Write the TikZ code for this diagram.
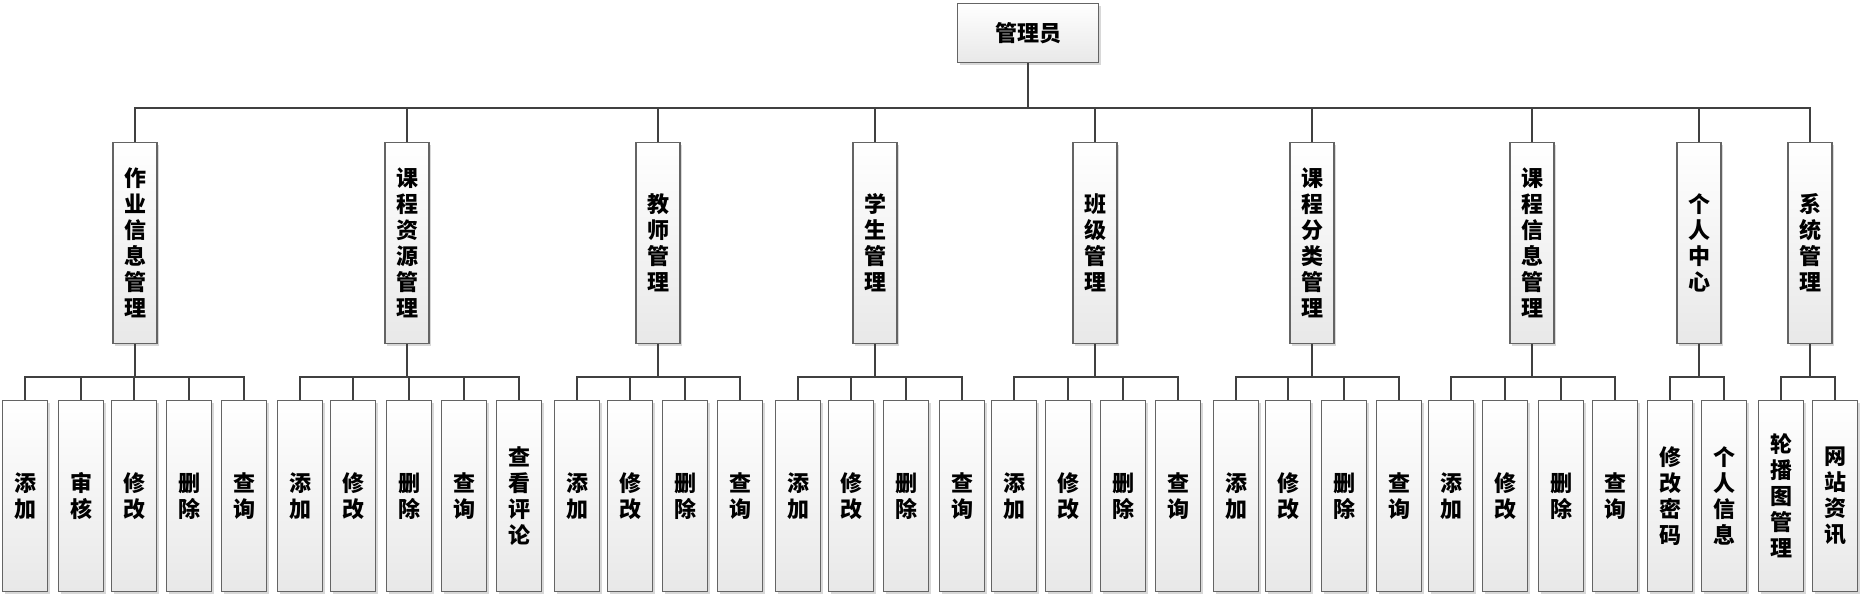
\documentclass[tikz,border=0pt]{standalone}
\usepackage{fontspec}
\usepackage{tikz}
\usetikzlibrary{shadows}
\newfontfamily\cjk{Noto Sans CJK SC}
\definecolor{linegray}{RGB}{64,64,64}
\definecolor{boxline}{RGB}{100,100,100}
\definecolor{boxfill}{RGB}{232,232,232}

\begin{document}
\begin{tikzpicture}[x=0.5pt, y=-0.5pt,
  every node/.style={align=center, inner sep=0pt, font=\cjk\bfseries\fontsize{11}{13}\selectfont},
  box/.style={draw=boxline, line width=0.7pt, top color=white, bottom color=boxfill,
    drop shadow={shadow xshift=1.2pt, shadow yshift=-1.2pt, fill=black!30}},
  rootbox/.style={box, minimum width=70.5pt, minimum height=29.5pt},
  midbox/.style={box, minimum width=22pt, minimum height=100.5pt},
  leafbox/.style={box, minimum width=22.5pt, minimum height=95.5pt},
  link/.style={draw=linegray, line width=1pt}]
  \useasboundingbox (0,0) rectangle (1866,599);
  % root
  \node[rootbox] (admin) at (1028,33) {管理员};
  % second level
  \node[midbox] (hw)  at (135,243)  {作\\业\\信\\息\\管\\理};
  \node[midbox] (res) at (407,243)  {课\\程\\资\\源\\管\\理};
  \node[midbox] (tea) at (658,243)  {教\\师\\管\\理};
  \node[midbox] (stu) at (875,243)  {学\\生\\管\\理};
  \node[midbox] (cls) at (1095,243) {班\\级\\管\\理};
  \node[midbox] (cat) at (1312,243) {课\\程\\分\\类\\管\\理};
  \node[midbox] (crs) at (1532,243) {课\\程\\信\\息\\管\\理};
  \node[midbox] (me)  at (1699,243) {个\\人\\中\\心};
  \node[midbox] (sys) at (1810,243) {系\\统\\管\\理};
  % 作业信息管理
  \node[leafbox] (hw1) at (25,496)  {添\\加};
  \node[leafbox] (hw2) at (81,496)  {审\\核};
  \node[leafbox] (hw3) at (134,496) {修\\改};
  \node[leafbox] (hw4) at (189,496) {删\\除};
  \node[leafbox] (hw5) at (244,496) {查\\询};
  % 课程资源管理
  \node[leafbox] (res1) at (300,496) {添\\加};
  \node[leafbox] (res2) at (353,496) {修\\改};
  \node[leafbox] (res3) at (409,496) {删\\除};
  \node[leafbox] (res4) at (464,496) {查\\询};
  \node[leafbox] (res5) at (519,496) {查\\看\\评\\论};
  % 教师管理
  \node[leafbox] (tea1) at (577,496) {添\\加};
  \node[leafbox] (tea2) at (630,496) {修\\改};
  \node[leafbox] (tea3) at (685,496) {删\\除};
  \node[leafbox] (tea4) at (740,496) {查\\询};
  % 学生管理
  \node[leafbox] (stu1) at (798,496) {添\\加};
  \node[leafbox] (stu2) at (851,496) {修\\改};
  \node[leafbox] (stu3) at (906,496) {删\\除};
  \node[leafbox] (stu4) at (962,496) {查\\询};
  % 班级管理
  \node[leafbox] (cls1) at (1014,496) {添\\加};
  \node[leafbox] (cls2) at (1068,496) {修\\改};
  \node[leafbox] (cls3) at (1123,496) {删\\除};
  \node[leafbox] (cls4) at (1178,496) {查\\询};
  % 课程分类管理
  \node[leafbox] (cat1) at (1236,496) {添\\加};
  \node[leafbox] (cat2) at (1288,496) {修\\改};
  \node[leafbox] (cat3) at (1344,496) {删\\除};
  \node[leafbox] (cat4) at (1399,496) {查\\询};
  % 课程信息管理
  \node[leafbox] (crs1) at (1451,496) {添\\加};
  \node[leafbox] (crs2) at (1505,496) {修\\改};
  \node[leafbox] (crs3) at (1561,496) {删\\除};
  \node[leafbox] (crs4) at (1615,496) {查\\询};
  % 个人中心
  \node[leafbox] (me1) at (1670,496) {修\\改\\密\\码};
  \node[leafbox] (me2) at (1724,496) {个\\人\\信\\息};
  % 系统管理
  \node[leafbox] (sys1) at (1781,496) {轮\\播\\图\\管\\理};
  \node[leafbox] (sys2) at (1835,496) {网\\站\\资\\讯};
  % connectors
  \draw[link] (admin.south) -- ++(0,45) coordinate (j0) -| (hw.north) (j0) -| (res.north)
    (j0) -| (tea.north) (j0) -| (stu.north) (j0) -| (cls.north) (j0) -| (cat.north)
    (j0) -| (crs.north) (j0) -| (me.north) (j0) -| (sys.north);
  \draw[link] (hw.south) -- ++(0,33) coordinate (j1) -| (hw1.north) (j1) -| (hw2.north)
    (j1) -| (hw3.north) (j1) -| (hw4.north) (j1) -| (hw5.north);
  \draw[link] (res.south) -- ++(0,33) coordinate (j2) -| (res1.north) (j2) -| (res2.north)
    (j2) -| (res3.north) (j2) -| (res4.north) (j2) -| (res5.north);
  \draw[link] (tea.south) -- ++(0,33) coordinate (j3) -| (tea1.north) (j3) -| (tea2.north)
    (j3) -| (tea3.north) (j3) -| (tea4.north);
  \draw[link] (stu.south) -- ++(0,33) coordinate (j4) -| (stu1.north) (j4) -| (stu2.north)
    (j4) -| (stu3.north) (j4) -| (stu4.north);
  \draw[link] (cls.south) -- ++(0,33) coordinate (j5) -| (cls1.north) (j5) -| (cls2.north)
    (j5) -| (cls3.north) (j5) -| (cls4.north);
  \draw[link] (cat.south) -- ++(0,33) coordinate (j6) -| (cat1.north) (j6) -| (cat2.north)
    (j6) -| (cat3.north) (j6) -| (cat4.north);
  \draw[link] (crs.south) -- ++(0,33) coordinate (j7) -| (crs1.north) (j7) -| (crs2.north)
    (j7) -| (crs3.north) (j7) -| (crs4.north);
  \draw[link] (me.south) -- ++(0,33) coordinate (j8) -| (me1.north) (j8) -| (me2.north);
  \draw[link] (sys.south) -- ++(0,33) coordinate (j9) -| (sys1.north) (j9) -| (sys2.north);
\end{tikzpicture}
\end{document}
